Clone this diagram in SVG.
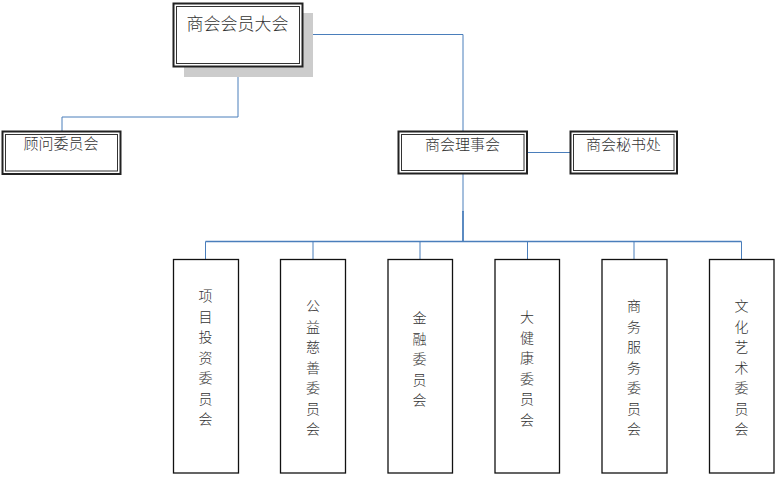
<svg xmlns="http://www.w3.org/2000/svg" width="777" height="477" viewBox="0 0 777 477">
<style>
.o{fill:#fff;stroke:#222;stroke-width:2}
.i{fill:none;stroke:#333;stroke-width:1}
.b{fill:#fff;stroke:#111;stroke-width:1.3}
.t{font-family:"Noto Sans CJK SC","Noto Sans",sans-serif;font-size:15px;font-weight:300;fill:#333;text-anchor:middle}
.v{font-family:"Noto Sans CJK SC","Noto Sans",sans-serif;font-size:14px;font-weight:300;fill:#333;text-anchor:middle}
.c{fill:none;stroke:#4a7ebb;stroke-width:1}
</style>
<rect width="777" height="477" fill="#fff"/>
<g id="connectors">
<polyline class="c" points="302,34.5 463,34.5 463,131"/>
<polyline class="c" points="238,67 238,117 62,117 62,131"/>
<line class="c" x1="527" y1="152.5" x2="570" y2="152.5"/>
<line class="c" x1="463" y1="173" x2="463" y2="212"/>
<line class="c" x1="463" y1="211" x2="463" y2="241" style="stroke-width:1.8"/>
<line class="c" x1="205.5" y1="241.5" x2="741.5" y2="241.5" style="stroke-width:1.3"/>
<line class="c" x1="205.5" y1="241.5" x2="205.5" y2="259"/>
<line class="c" x1="313" y1="241.5" x2="313" y2="259"/>
<line class="c" x1="420" y1="241.5" x2="420" y2="259"/>
<line class="c" x1="527.5" y1="241.5" x2="527.5" y2="259"/>
<line class="c" x1="634" y1="241.5" x2="634" y2="259"/>
<line class="c" x1="741.5" y1="241.5" x2="741.5" y2="263"/>
</g>
<g id="n-assembly">
<rect x="184" y="13" width="129" height="64" fill="#cccccc"/>
<rect class="o" x="173.5" y="3.5" width="129" height="63"/>
<rect class="i" x="176.5" y="6.5" width="123" height="57"/>
<text class="t" x="237.5" y="29.5" style="font-size:17px">商会会员大会</text>
</g>
<g id="n-advisory">
<rect class="o" x="2.5" y="131.5" width="118" height="42.5"/>
<rect class="i" x="5.5" y="134.5" width="112" height="36.5"/>
<text class="t" x="61" y="149">顾问委员会</text>
</g>
<g id="n-council">
<rect class="o" x="398.5" y="131.5" width="128.5" height="42"/>
<rect class="i" x="401.5" y="134.5" width="122.5" height="36"/>
<text class="t" x="462.5" y="149.5">商会理事会</text>
</g>
<g id="n-secretariat">
<rect class="o" x="570.5" y="131.5" width="106.5" height="42"/>
<rect class="i" x="573.5" y="134.5" width="100.5" height="36"/>
<text class="t" x="623.5" y="149.5">商会秘书处</text>
</g>
<g id="n-invest">
<rect class="b" x="173.5" y="259.5" width="65" height="213.5"/>
<text class="v" x="205.5"><tspan x="205.5" y="301">项</tspan><tspan x="205.5" y="321.5">目</tspan><tspan x="205.5" y="342">投</tspan><tspan x="205.5" y="362.5">资</tspan><tspan x="205.5" y="383">委</tspan><tspan x="205.5" y="403.5">员</tspan><tspan x="205.5" y="424">会</tspan></text>
</g>
<g id="n-charity">
<rect class="b" x="280.5" y="259.5" width="65" height="213.5"/>
<text class="v" x="313"><tspan x="313" y="311">公</tspan><tspan x="313" y="331.5">益</tspan><tspan x="313" y="352">慈</tspan><tspan x="313" y="372.5">善</tspan><tspan x="313" y="393">委</tspan><tspan x="313" y="413.5">员</tspan><tspan x="313" y="434">会</tspan></text>
</g>
<g id="n-finance">
<rect class="b" x="388" y="259.5" width="64.5" height="213.5"/>
<text class="v" x="419.5"><tspan x="419.5" y="323">金</tspan><tspan x="419.5" y="343.5">融</tspan><tspan x="419.5" y="364">委</tspan><tspan x="419.5" y="384.5">员</tspan><tspan x="419.5" y="405">会</tspan></text>
</g>
<g id="n-health">
<rect class="b" x="495" y="259.5" width="64.5" height="213.5"/>
<text class="v" x="527"><tspan x="527" y="322">大</tspan><tspan x="527" y="342.5">健</tspan><tspan x="527" y="363">康</tspan><tspan x="527" y="383.5">委</tspan><tspan x="527" y="404">员</tspan><tspan x="527" y="424.5">会</tspan></text>
</g>
<g id="n-business">
<rect class="b" x="602" y="259.5" width="65" height="213.5"/>
<text class="v" x="634"><tspan x="634" y="311">商</tspan><tspan x="634" y="331.5">务</tspan><tspan x="634" y="352">服</tspan><tspan x="634" y="372.5">务</tspan><tspan x="634" y="393">委</tspan><tspan x="634" y="413.5">员</tspan><tspan x="634" y="434">会</tspan></text>
</g>
<g id="n-culture">
<rect class="b" x="709.5" y="259.5" width="64.5" height="213.5"/>
<text class="v" x="741.5"><tspan x="741.5" y="311">文</tspan><tspan x="741.5" y="331.5">化</tspan><tspan x="741.5" y="352">艺</tspan><tspan x="741.5" y="372.5">术</tspan><tspan x="741.5" y="393">委</tspan><tspan x="741.5" y="413.5">员</tspan><tspan x="741.5" y="434">会</tspan></text>
</g>
</svg>
